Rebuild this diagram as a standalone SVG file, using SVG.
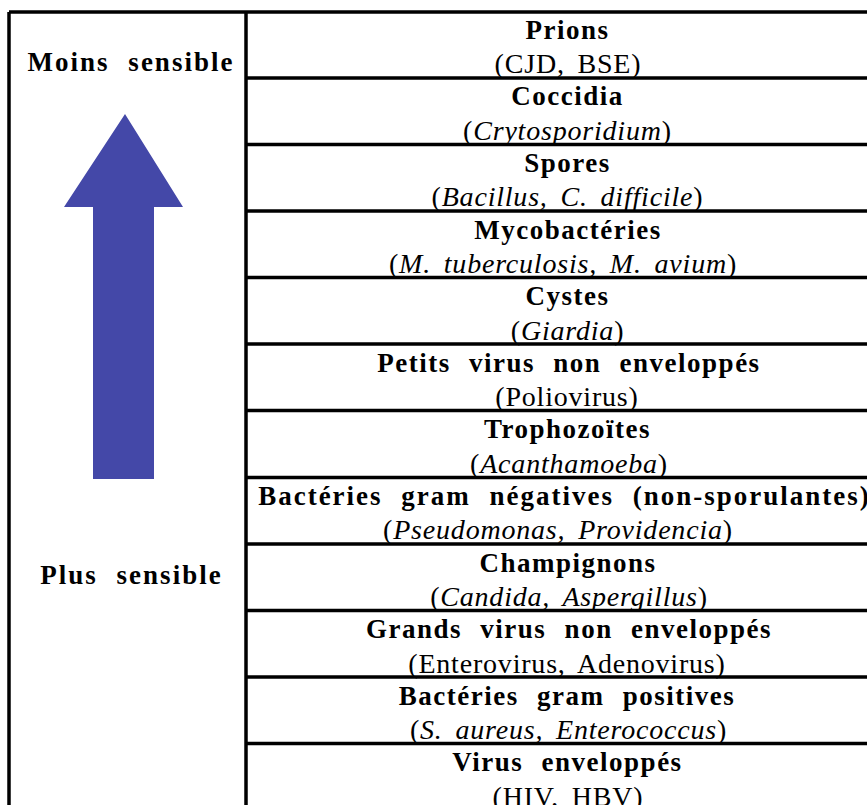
<svg xmlns="http://www.w3.org/2000/svg" width="867" height="805" viewBox="0 0 867 805">
<style>
.ln{stroke:#000;stroke-width:3.5;fill:none}
.t{font-family:"Liberation Serif","Times New Roman",serif;font-weight:bold;font-size:27px;letter-spacing:1.5px;word-spacing:10px;text-anchor:middle;fill:#000}
.w{letter-spacing:2px}
.s{font-family:"Liberation Serif","Times New Roman",serif;font-size:28px;letter-spacing:0.8px;word-spacing:5px;text-anchor:middle;fill:#000}
.i{font-style:italic}
</style>
<rect width="867" height="805" fill="#fff"/>
<g id="grid">
<line class="ln" x1="9" y1="12" x2="867" y2="12"/>
<line class="ln" x1="9" y1="12" x2="9" y2="805"/>
<line class="ln" x1="246" y1="12" x2="246" y2="805"/>
<line class="ln" x1="246" y1="78" x2="867" y2="78"/>
<line class="ln" x1="246" y1="144.5" x2="867" y2="144.5"/>
<line class="ln" x1="246" y1="211" x2="867" y2="211"/>
<line class="ln" x1="246" y1="277.5" x2="867" y2="277.5"/>
<line class="ln" x1="246" y1="344" x2="867" y2="344"/>
<line class="ln" x1="246" y1="410.5" x2="867" y2="410.5"/>
<line class="ln" x1="246" y1="477.5" x2="867" y2="477.5"/>
<line class="ln" x1="246" y1="544" x2="867" y2="544"/>
<line class="ln" x1="246" y1="610.5" x2="867" y2="610.5"/>
<line class="ln" x1="246" y1="677" x2="867" y2="677"/>
<line class="ln" x1="246" y1="743.5" x2="867" y2="743.5"/>
</g>
<g id="axis">
<text class="t w" x="131" y="71">Moins sensible</text>
<polygon points="125,114 183,207 154,207 154,479 93,479 93,207 64,207" fill="#4448A8"/>
<text class="t w" x="131.5" y="584">Plus sensible</text>
</g>
<g id="prions"><text class="t" x="567.5" y="38.7">Prions</text><text class="s" x="568" y="73.1">(CJD, BSE)</text></g>
<g id="coccidia"><text class="t" x="567.5" y="105.3">Coccidia</text><text class="s" x="567.5" y="139.7">(<tspan class="i">Crytosporidium</tspan>)</text></g>
<g id="spores"><text class="t" x="567.5" y="171.9">Spores</text><text class="s" x="567.5" y="206.3">(<tspan class="i">Bacillus, C. difficile</tspan>)</text></g>
<g id="mycobacteries"><text class="t" x="568" y="238.5">Mycobactéries</text><text class="s" x="563" y="272.9">(<tspan class="i">M. tuberculosis, M. avium</tspan>)</text></g>
<g id="cystes"><text class="t" x="567.5" y="305.1">Cystes</text><text class="s" x="567.5" y="339.5">(<tspan class="i">Giardia</tspan>)</text></g>
<g id="petits-virus"><text class="t" x="569" y="371.7">Petits virus non enveloppés</text><text class="s" x="567" y="406.1">(Poliovirus)</text></g>
<g id="trophozoites"><text class="t" x="567.5" y="438.3">Trophozoïtes</text><text class="s" x="569" y="472.7">(<tspan class="i">Acanthamoeba</tspan>)</text></g>
<g id="gram-negatives"><text class="t w" x="564.5" y="504.9">Bactéries gram négatives (non-sporulantes)</text><text class="s" x="558" y="539.3">(<tspan class="i">Pseudomonas, Providencia</tspan>)</text></g>
<g id="champignons"><text class="t" x="568" y="571.5">Champignons</text><text class="s" x="569" y="605.9">(<tspan class="i">Candida, Aspergillus</tspan>)</text></g>
<g id="grands-virus"><text class="t" x="569" y="638.1">Grands virus non enveloppés</text><text class="s" x="567" y="672.5">(Enterovirus, Adenovirus)</text></g>
<g id="gram-positives"><text class="t" x="567" y="704.7">Bactéries gram positives</text><text class="s" x="568.5" y="739.1">(<tspan class="i">S. aureus, Enterococcus</tspan>)</text></g>
<g id="virus-enveloppes"><text class="t" x="567.5" y="771.3">Virus enveloppés</text><text class="s" x="568" y="805.7">(HIV, HBV)</text></g>
</svg>
